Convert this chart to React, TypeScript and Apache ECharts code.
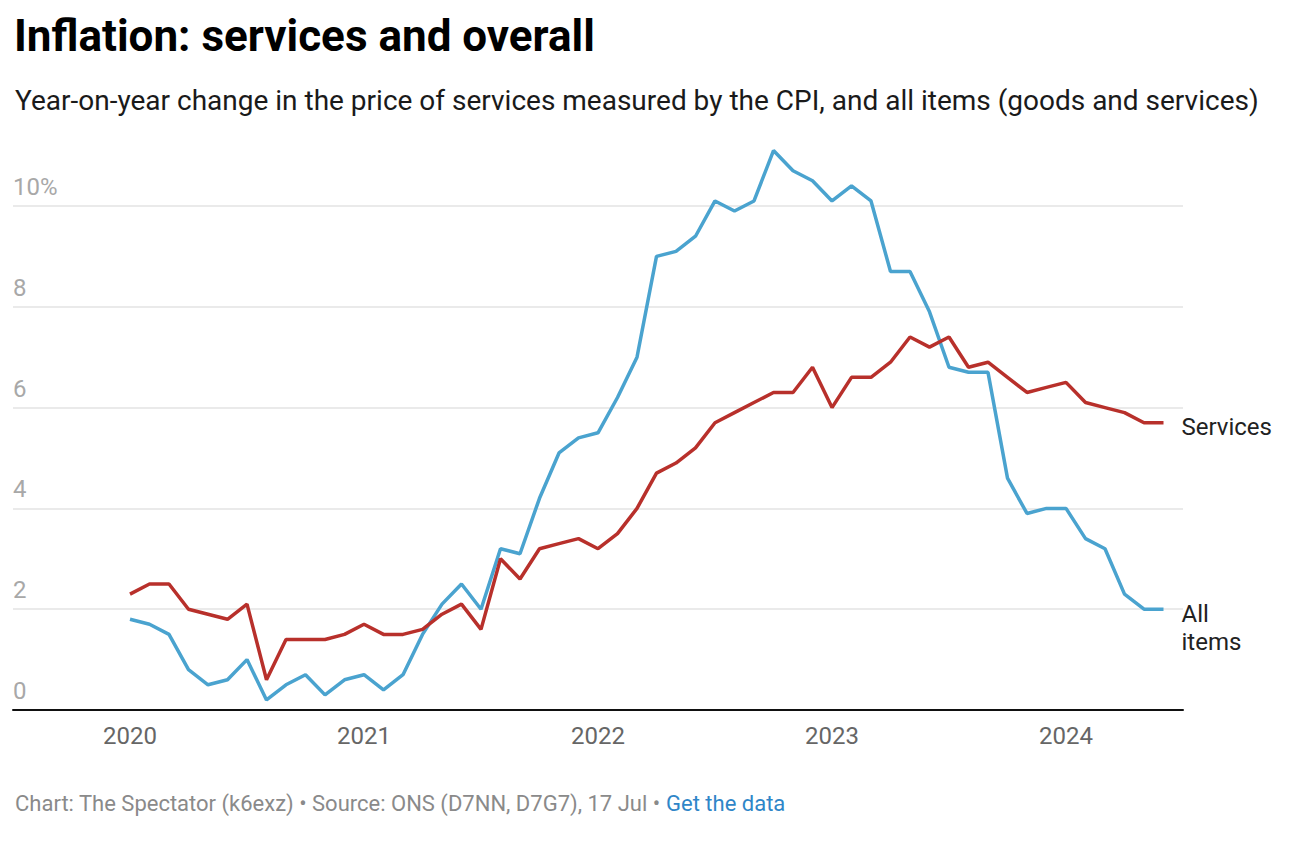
import React, { useEffect, useRef } from "react";
import * as echarts from "echarts";

// Months from Jul 2019 to Jul 2024 (axis spans half a year before the data starts)
const startYear = 2019;
const startMonth = 7;
const monthCount = 61;
const categories: string[] = [];
for (let i = 0; i < monthCount; i++) {
  const m = startMonth - 1 + i;
  const y = startYear + Math.floor(m / 12);
  const mm = (m % 12) + 1;
  categories.push(`${y}-${String(mm).padStart(2, "0")}`);
}
const leadingBlank = 6; // Jul–Dec 2019 have no data

// CPI all items, Jan 2020 – Jun 2024 (%)
const allItems = [
  1.8, 1.7, 1.5, 0.8, 0.5, 0.6, 1.0, 0.2, 0.5, 0.7, 0.3, 0.6,
  0.7, 0.4, 0.7, 1.5, 2.1, 2.5, 2.0, 3.2, 3.1, 4.2, 5.1, 5.4,
  5.5, 6.2, 7.0, 9.0, 9.1, 9.4, 10.1, 9.9, 10.1, 11.1, 10.7, 10.5,
  10.1, 10.4, 10.1, 8.7, 8.7, 7.9, 6.8, 6.7, 6.7, 4.6, 3.9, 4.0,
  4.0, 3.4, 3.2, 2.3, 2.0, 2.0,
];

// CPI services, Jan 2020 – Jun 2024 (%)
const services = [
  2.3, 2.5, 2.5, 2.0, 1.9, 1.8, 2.1, 0.6, 1.4, 1.4, 1.4, 1.5,
  1.7, 1.5, 1.5, 1.6, 1.9, 2.1, 1.6, 3.0, 2.6, 3.2, 3.3, 3.4,
  3.2, 3.5, 4.0, 4.7, 4.9, 5.2, 5.7, 5.9, 6.1, 6.3, 6.3, 6.8,
  6.0, 6.6, 6.6, 6.9, 7.4, 7.2, 7.4, 6.8, 6.9, 6.6, 6.3, 6.4,
  6.5, 6.1, 6.0, 5.9, 5.7, 5.7,
];

const yTicks = [0, 2, 4, 6, 8, 10];

const pad = (arr: number[]) => {
  const out: (number | null)[] = [];
  for (let i = 0; i < leadingBlank; i++) out.push(null);
  for (const v of arr) out.push(v);
  while (out.length < monthCount) out.push(null);
  return out;
};

const FONT = "Roboto";

export default function App() {
  const ref = useRef<HTMLDivElement>(null);
  useEffect(() => {
    document.body.style.margin = "0";
    if (!ref.current) return;
    const chart = echarts.init(ref.current, undefined, { renderer: "svg" });
    chart.setOption({
      animation: false,
      backgroundColor: "#ffffff",
      textStyle: { fontFamily: FONT },
      title: [
        {
          text: "Inflation: services and overall",
          left: 9,
          top: 9,
          textStyle: { fontFamily: FONT, fontSize: 44, fontWeight: "bold", color: "#000000" },
        },
        {
          text: "Year-on-year change in the price of services measured by the CPI, and all items (goods and services)",
          left: 10,
          top: 81,
          textStyle: { fontFamily: FONT, fontSize: 28, fontWeight: "normal", color: "#1a1a1a" },
        },
        {
          text: "{a|Chart: The Spectator (k6exz) • Source: ONS (D7NN, D7G7), 17 Jul • }{b|Get the data}",
          left: 10,
          top: 787,
          textStyle: {
            fontWeight: "normal",
            rich: {
              a: { fontFamily: FONT, fontSize: 22, fontWeight: "normal", color: "#8a8a8a" },
              b: { fontFamily: FONT, fontSize: 22, fontWeight: "normal", color: "#2f86c8" },
            },
          },
        },
      ],
      grid: { left: 13, right: 117, top: 145.5, bottom: 134, containLabel: false },
      xAxis: {
        type: "category",
        data: categories,
        boundaryGap: false,
        axisLine: { show: true, lineStyle: { color: "#111111", width: 2 } },
        axisTick: { show: false },
        splitLine: { show: false },
        axisLabel: {
          interval: (idx: number, val: string) => val.endsWith("-01"),
          formatter: (val: string) => val.slice(0, 4),
          color: "#666666",
          fontSize: 24,
          fontFamily: FONT,
          margin: 14,
        },
      },
      yAxis: {
        type: "value",
        min: 0,
        max: 11.2,
        interval: 2,
        axisLine: { show: false },
        axisTick: { show: false },
        splitLine: {
          show: true,
          showMaxLine: false,
          lineStyle: { color: "#e3e3e3", width: 1.5 },
        },
        axisLabel: {
          inside: true,
          showMaxLabel: false,
          margin: 0,
          verticalAlign: "bottom",
          padding: [0, 0, 7, 0],
          color: "#a8a8a8",
          fontSize: 24,
          fontFamily: FONT,
          formatter: (v: number) => (yTicks.includes(v) ? (v === 10 ? "10%" : String(v)) : ""),
        },
      },
      series: [
        {
          name: "All items",
          type: "line",
          data: pad(allItems),
          symbol: "none",
          lineStyle: { color: "#4aa3cf", width: 3.5 },
          itemStyle: { color: "#4aa3cf" },
          endLabel: {
            show: true,
            formatter: "All\nitems",
            distance: 18,
            offset: [0, 19],
            color: "#222222",
            fontSize: 24,
            lineHeight: 28,
            fontFamily: FONT,
          },
        },
        {
          name: "Services",
          type: "line",
          data: pad(services),
          symbol: "none",
          lineStyle: { color: "#b8302b", width: 3.5 },
          itemStyle: { color: "#b8302b" },
          endLabel: {
            show: true,
            formatter: "Services",
            distance: 18,
            offset: [0, 4],
            color: "#222222",
            fontSize: 24,
            fontFamily: FONT,
          },
        },
      ],
    });
    return () => chart.dispose();
  }, []);
  return <div ref={ref} style={{ width: 1300, height: 844 }} />;
}
